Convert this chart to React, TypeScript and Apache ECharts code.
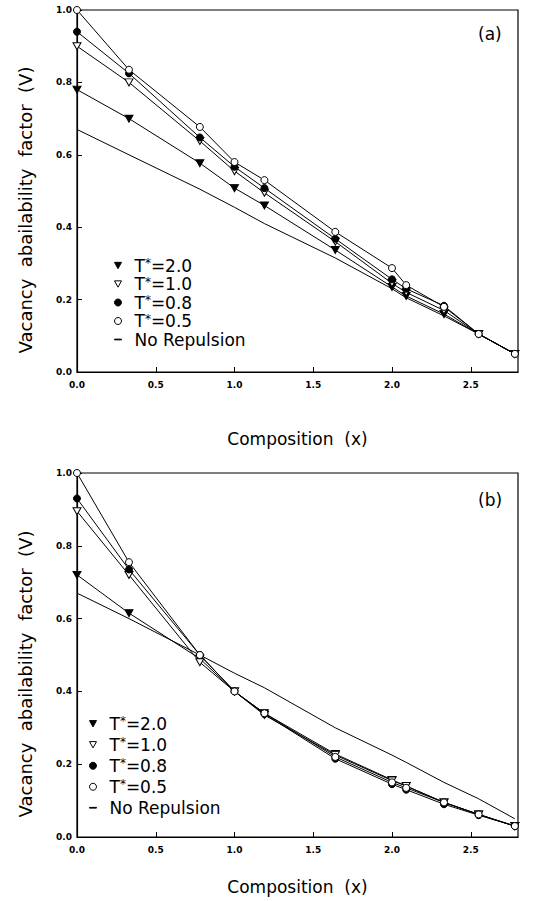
import React, { useEffect, useRef } from "react";
import * as echarts from "echarts";

const compX = [0, 0.33, 0.78, 1.0, 1.19, 1.64, 2.0, 2.09, 2.33, 2.55, 2.78];

const a05 = [1.0, 0.835, 0.677, 0.58, 0.53, 0.387, 0.287, 0.24, 0.18, 0.105, 0.05];
const a08 = [0.94, 0.825, 0.648, 0.567, 0.508, 0.368, 0.256, 0.23, 0.183, 0.105, 0.05];
const a10 = [0.9, 0.8, 0.638, 0.555, 0.495, 0.36, 0.245, 0.22, 0.17, 0.105, 0.05];
const a20 = [0.78, 0.7, 0.577, 0.508, 0.46, 0.337, 0.235, 0.21, 0.16, 0.105, 0.05];
const aNo = [0.67, 0.6, 0.505, 0.455, 0.41, 0.315, 0.23, 0.205, 0.155, 0.105, 0.05];

const b05 = [1.0, 0.755, 0.5, 0.4, 0.34, 0.22, 0.15, 0.135, 0.095, 0.062, 0.03];
const b08 = [0.93, 0.735, 0.5, 0.4, 0.338, 0.215, 0.145, 0.13, 0.09, 0.06, 0.03];
const b10 = [0.895, 0.72, 0.48, 0.4, 0.335, 0.225, 0.155, 0.14, 0.095, 0.062, 0.03];
const b20 = [0.72, 0.615, 0.49, 0.4, 0.34, 0.228, 0.157, 0.14, 0.095, 0.062, 0.03];
const bNo = [0.67, 0.6, 0.5, 0.45, 0.41, 0.3, 0.225, 0.205, 0.15, 0.105, 0.05];

const seriesNames = ["T*=2.0", "T*=1.0", "T*=0.8", "T*=0.5", "No Repulsion"];
const xTitle = "Composition  (x)";
const yTitle = "Vacancy  abailability  factor  (V)";
const panelLabels = ["(a)", "(b)"];

const DOWN_TRI = "path://M0,0 L10,0 L5,9 Z";
const FONT = "DejaVu Sans";

function pairs(ys: number[]) {
  return compX.map((x, i) => [x, ys[i]]);
}

const styles: Record<string, any> = {
  "T*=2.0": { symbol: DOWN_TRI, fill: "#000" },
  "T*=1.0": { symbol: DOWN_TRI, fill: "#fff" },
  "T*=0.8": { symbol: "circle", fill: "#000" },
  "T*=0.5": { symbol: "circle", fill: "#fff" },
  "No Repulsion": { symbol: "none", fill: "#000" },
};

function makeSeries(gridIdx: number, sets: number[][]) {
  return seriesNames.map((name, i) => {
    const st = styles[name];
    return {
      name,
      type: "line",
      xAxisIndex: gridIdx,
      yAxisIndex: gridIdx,
      data: pairs(sets[i]),
      symbol: st.symbol,
      symbolSize: st.symbol === "circle" ? 7 : [8, 7],
      showSymbol: st.symbol !== "none",
      lineStyle: { color: "#000", width: 1 },
      itemStyle: { color: st.fill, borderColor: "#000", borderWidth: 1 },
      z: name === "No Repulsion" ? 1 : 2 + i,
      silent: true,
    };
  });
}

export default function App() {
  const ref = useRef<HTMLDivElement>(null);
  useEffect(() => {
    document.body.style.margin = "0";
    const chart = echarts.init(ref.current!, null, { renderer: "svg" });
    const grids = [
      { left: 77, right: 22, top: 10, height: 362 },
      { left: 77, right: 22, top: 473, height: 364 },
    ];
    const xAxes = grids.map((_, i) => ({
      type: "value",
      gridIndex: i,
      min: 0,
      max: 2.8,
      interval: 0.5,
      name: xTitle,
      nameLocation: "middle",
      nameGap: i === 0 ? 58 : 41,
      nameTextStyle: { fontFamily: FONT, fontSize: 17, color: "#000" },
      axisLine: { show: true, lineStyle: { color: "#000", width: 1.2 } },
      axisTick: { show: true, inside: true, length: 5, lineStyle: { color: "#000" } },
      axisLabel: {
        fontFamily: FONT,
        fontSize: 9,
        fontWeight: "bold",
        color: "#000",
        margin: 8,
        showMaxLabel: false,
        formatter: (v: number) => v.toFixed(1),
      },
      splitLine: { show: false },
    }));
    const yAxes = grids.map((_, i) => ({
      type: "value",
      gridIndex: i,
      min: 0,
      max: 1.0,
      interval: 0.2,
      axisLine: { show: true, lineStyle: { color: "#000", width: 1.2 } },
      axisTick: { show: true, inside: true, length: 5, lineStyle: { color: "#000" } },
      axisLabel: {
        fontFamily: FONT,
        fontSize: 9,
        fontWeight: "bold",
        color: "#000",
        margin: 5,
        formatter: (v: number) => v.toFixed(1),
      },
      splitLine: { show: false },
    }));
    const legendBase = (gap: number, lh: number) => ({
      orient: "vertical",
      data: seriesNames.map((n) => ({
        name: n,
        icon: n === "No Repulsion" ? "path://M0,4 L10,4 L10,5 L0,5 Z" : styles[n].symbol,
        itemStyle: { color: styles[n].fill, borderColor: "#000", borderWidth: 1 },
      })),
      itemWidth: 7,
      itemHeight: 7,
      itemGap: gap,
      selectedMode: false,
      formatter: (name: string) => "{g| }" + name.replace("T*", "T{s|*}"),
      textStyle: {
        fontFamily: FONT,
        fontSize: 17,
        color: "#000",
        lineHeight: lh,
        rich: {
          g: { width: 8, fontSize: 17, lineHeight: lh, color: "#000" },
          s: { fontSize: 12, verticalAlign: "top", lineHeight: lh, fontFamily: FONT, color: "#000" },
        },
      },
    });
    const yTitleText = (cy: number) => ({
      type: "text",
      x: 25,
      y: cy,
      rotation: Math.PI / 2,
      style: { text: yTitle, fontFamily: FONT, fontSize: 18, fill: "#000", align: "center", verticalAlign: "middle" },
    });
    chart.setOption({
      animation: false,
      backgroundColor: "#fff",
      color: ["#000"],
      grid: grids.map((g) => ({ ...g, show: true, borderColor: "#000", borderWidth: 1.2, backgroundColor: "transparent" })),
      xAxis: xAxes,
      yAxis: yAxes,
      legend: [
        { ...legendBase(1.5, 17), left: 109, top: 252 },
        { ...legendBase(3.5, 17.5), left: 84, top: 710 },
      ],
      graphic: [
        yTitleText(210),
        yTitleText(674),
        { type: "text", left: 478, top: 25, style: { text: panelLabels[0], fontFamily: FONT, fontSize: 17, fill: "#000" } },
        { type: "text", left: 478, top: 491, style: { text: panelLabels[1], fontFamily: FONT, fontSize: 17, fill: "#000" } },
      ],
      series: [
        ...makeSeries(0, [a20, a10, a08, a05, aNo]),
        ...makeSeries(1, [b20, b10, b08, b05, bNo]),
      ],
    });
    return () => chart.dispose();
  }, []);
  return <div ref={ref} style={{ width: 540, height: 901 }} />;
}
